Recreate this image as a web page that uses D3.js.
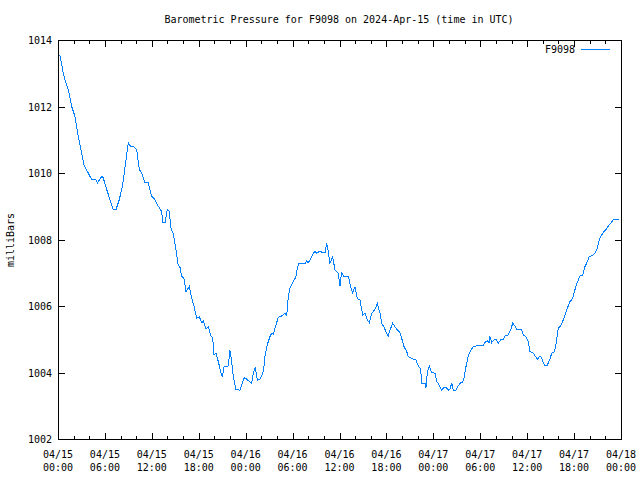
<!DOCTYPE html>
<html><head><meta charset="utf-8">
<script src="https://cdn.jsdelivr.net/npm/d3@7"></script>
<style>
body{margin:0;background:#fff;}
svg{display:block;}
text{font-family:"DejaVu Sans Mono","Liberation Mono",monospace;font-size:10px;fill:#000;}
</style></head>
<body>
<svg id="chart" width="640" height="480"></svg>
<script>
// ---- data (hours since 2024-04-15 00:00 UTC, pressure in millibars) ----
const stationName = "F9098";
const titleText = "Barometric Pressure for F9098 on 2024-Apr-15 (time in UTC)";
const yLabel = "milliBars";
const hoursSinceStart = [0.13,0.26,0.68,1.02,1.32,1.75,2.17,2.60,3.03,3.32,3.87,4.31,4.86,5.03,5.59,5.79,6.23,6.65,7.07,7.42,7.84,8.27,8.70,8.99,9.30,9.63,10.06,10.40,10.70,11.13,11.55,11.98,12.40,12.83,13.26,13.39,13.68,13.98,14.23,14.45,14.77,15.09,15.35,15.60,15.82,16.11,16.37,16.79,17.10,17.39,17.74,18.07,18.38,18.58,18.93,19.22,19.53,19.78,19.95,20.20,20.50,20.81,21.01,21.23,21.78,21.99,22.21,22.42,22.76,23.27,23.49,23.82,24.13,24.46,24.77,24.97,25.23,25.49,25.83,26.18,26.34,26.47,26.76,27.11,27.33,27.53,27.88,28.17,28.61,29.03,29.25,29.45,29.67,30.09,30.43,30.60,30.78,31.59,31.80,32.01,32.44,32.86,33.08,33.50,33.85,34.14,34.36,34.57,34.78,35.13,35.42,35.84,36.06,36.28,36.48,37.12,37.43,37.69,37.98,38.27,38.62,38.96,39.26,39.55,39.81,40.12,40.54,40.83,41.18,41.39,41.69,42.03,42.24,42.46,42.80,43.09,43.39,43.73,43.95,44.25,44.59,44.80,45.23,45.78,46.07,46.38,46.51,46.93,47.06,47.23,47.48,47.79,48.21,48.43,48.76,49.07,49.36,49.62,49.91,50.13,50.35,50.55,50.90,51.19,51.41,51.75,51.92,52.17,52.47,52.78,53.11,53.54,54.31,54.60,54.90,55.12,55.24,55.46,55.75,56.10,56.30,56.61,56.94,57.16,57.46,57.71,57.89,58.15,58.44,58.73,59.30,59.50,59.85,60.14,60.36,60.78,61.13,61.29,61.55,61.85,62.06,62.28,62.57,62.92,63.13,63.43,63.68,63.98,64.28,64.62,64.83,65.13,65.47,65.82,65.98,66.24,66.53,66.75,67.10,67.39,67.69,67.94,68.38,68.67,68.96,69.22,69.53,69.82,70.08,70.37,70.68,71.01,71.78];
const pressureMb = [1013.55,1013.52,1013.0,1012.7,1012.5,1012.0,1011.7,1011.1,1010.6,1010.24,1010.0,1009.8,1009.8,1009.7,1009.9,1009.85,1009.5,1009.2,1008.9,1008.9,1009.2,1009.64,1010.4,1010.9,1010.8,1010.8,1010.7,1010.1,1010.0,1009.7,1009.7,1009.3,1009.2,1009.0,1008.84,1008.5,1008.5,1008.9,1008.85,1008.34,1008.15,1007.7,1007.25,1007.16,1006.9,1006.83,1006.43,1006.58,1006.23,1006.0,1005.63,1005.68,1005.5,1005.55,1005.3,1005.38,1005.1,1005.05,1004.53,1004.58,1004.33,1004.02,1003.87,1004.17,1004.2,1004.66,1004.33,1003.87,1003.49,1003.47,1003.62,1003.84,1003.8,1003.73,1003.67,1003.98,1004.17,1003.77,1003.8,1003.98,1004.17,1004.5,1004.83,1005.08,1005.18,1005.15,1005.43,1005.66,1005.7,1005.78,1005.72,1006.28,1006.53,1006.73,1006.88,1007.13,1007.28,1007.28,1007.36,1007.3,1007.48,1007.66,1007.58,1007.66,1007.6,1007.6,1007.88,1007.63,1007.28,1007.48,1007.08,1006.98,1006.6,1007.03,1006.9,1006.9,1006.58,1006.4,1006.58,1006.23,1006.18,1005.73,1005.78,1005.58,1005.5,1005.78,1005.9,1006.08,1005.78,1005.48,1005.36,1005.18,1005.1,1005.28,1005.48,1005.38,1005.28,1005.2,1005.03,1004.78,1004.63,1004.48,1004.42,1004.38,1004.2,1004.1,1003.68,1003.68,1003.55,1004.0,1004.2,1004.0,1003.98,1003.73,1003.62,1003.47,1003.55,1003.55,1003.47,1003.5,1003.68,1003.47,1003.47,1003.6,1003.68,1003.7,1003.83,1004.17,1004.5,1004.66,1004.78,1004.8,1004.8,1004.9,1004.96,1004.9,1005.08,1004.9,1004.98,1004.98,1004.88,1004.98,1005.0,1005.1,1005.1,1005.2,1005.28,1005.48,1005.4,1005.28,1005.28,1005.13,1005.08,1004.93,1004.63,1004.58,1004.46,1004.38,1004.48,1004.46,1004.28,1004.2,1004.22,1004.4,1004.58,1004.6,1004.83,1005.33,1005.4,1005.58,1005.73,1005.93,1006.13,1006.23,1006.38,1006.6,1006.78,1006.9,1006.93,1007.18,1007.33,1007.48,1007.53,1007.6,1007.73,1008.0,1008.14,1008.24,1008.3,1008.4,1008.49,1008.59,1008.6];
const yTicks = [1002,1004,1006,1008,1010,1012,1014];
const xTickHours = [0,6,12,18,24,30,36,42,48,54,60,66,72];

// ---- layout ----
const L = 58, R = 621, T = 40, B = 439;
const start = Date.UTC(2024,3,15,0,0);
const hourMs = 3600*1000;
const toDate = h => new Date(start + h*hourMs);

const x = d3.scaleUtc().domain([toDate(0), toDate(72)]).range([L, R]);
const y = d3.scaleLinear().domain([1002, 1014]).range([B, T]);

const svg = d3.select("#chart");
const lineColor = "#0080ff";

// title
svg.append("text").attr("x", 339).attr("y", 23).attr("text-anchor","middle").text(titleText);

// y label
svg.append("text").attr("transform","translate(14,240) rotate(-90)").attr("text-anchor","middle").text(yLabel);

// frame
svg.append("rect").attr("x", L+0.5).attr("y", T+0.5).attr("width", R-L).attr("height", B-T)
  .attr("fill","none").attr("stroke","#000").attr("stroke-width",1).attr("shape-rendering","crispEdges");

// x ticks (major 6h, minor 2h) on bottom and top, inward
const minorHours = d3.range(0, 73, 2);
const tickG = svg.append("g").attr("stroke","#000").attr("shape-rendering","crispEdges");
minorHours.forEach(h => {
  const px = Math.round(x(toDate(h))) + 0.5;
  const len = (h % 6 === 0) ? 6 : 3;
  tickG.append("line").attr("x1",px).attr("x2",px).attr("y1",B).attr("y2",B-len);
  tickG.append("line").attr("x1",px).attr("x2",px).attr("y1",T+1).attr("y2",T+1+len);
});
// y ticks left and right, inward
yTicks.forEach(v => {
  const py = Math.round(y(v)) + 0.5;
  tickG.append("line").attr("x1",L+1).attr("x2",L+1+6).attr("y1",py).attr("y2",py);
  tickG.append("line").attr("x1",R).attr("x2",R-6).attr("y1",py).attr("y2",py);
});

// y tick labels
svg.append("g").selectAll("text").data(yTicks).join("text")
  .attr("x", 52).attr("y", d => y(d) + 4).attr("text-anchor","end").text(d => d);

// x tick labels (two lines)
const fmtDate = d3.utcFormat("%m/%d"), fmtTime = d3.utcFormat("%H:%M");
const xl = svg.append("g").selectAll("g").data(xTickHours).join("g");
xl.append("text").attr("x", d => x(toDate(d))).attr("y", 458).attr("text-anchor","middle").text(d => fmtDate(toDate(d)));
xl.append("text").attr("x", d => x(toDate(d))).attr("y", 471).attr("text-anchor","middle").text(d => fmtTime(toDate(d)));

// data line
const data = hoursSinceStart.map((h,i) => ({t: toDate(h), v: pressureMb[i]}));
svg.append("path").datum(data)
  .attr("fill","none").attr("stroke", lineColor).attr("stroke-width",1)
  .attr("shape-rendering","crispEdges")
  .attr("d", d3.line().x(d => x(d.t)).y(d => y(d.v)));

// legend
svg.append("text").attr("x", 575).attr("y", 53).attr("text-anchor","end").text(stationName);
svg.append("line").attr("x1",581).attr("x2",610).attr("y1",49.5).attr("y2",49.5)
  .attr("stroke",lineColor).attr("stroke-width",1).attr("shape-rendering","crispEdges");
</script>
</body></html>
